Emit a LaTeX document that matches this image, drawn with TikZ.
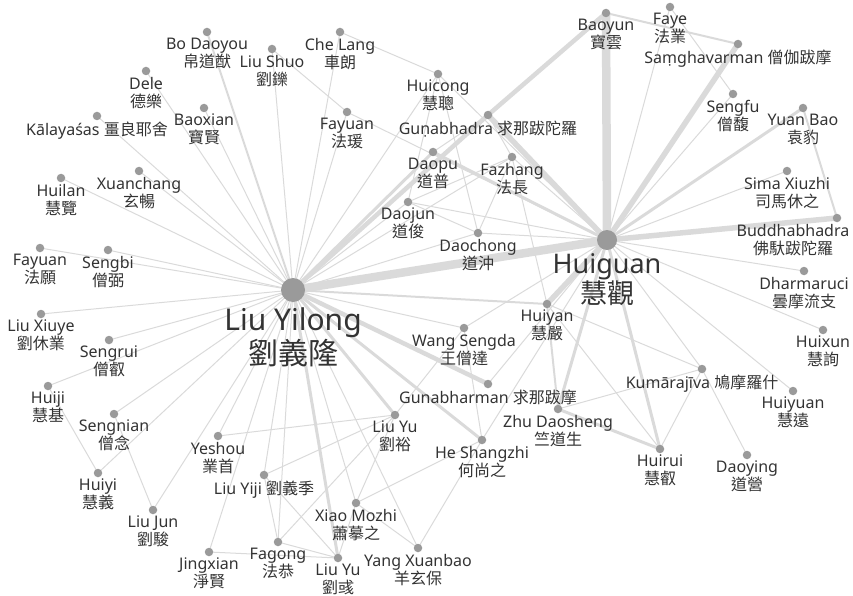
\documentclass[tikz,border=0pt]{standalone}
\usepackage{fontspec}
\setmainfont{Noto Sans}
\newfontfamily\cjk{Noto Sans CJK TC}
\definecolor{edgec}{HTML}{DADADA}
\definecolor{dotc}{HTML}{9A9A9A}
\definecolor{txtc}{HTML}{333333}
\pgfdeclarelayer{bg}
\pgfsetlayers{bg,main}
\newcommand\mkp[5]{\node[dotn] (#1) at (#2,#3) {}; \node[lbl] (#1l) at ([yshift=-6pt]#1.center) {#4\\{\cjk #5}};}
\newcommand\mko[4]{\node[dotn] (#1) at (#2,#3) {}; \node[lbl] (#1l) at ([yshift=-6pt]#1.center) {#4};}
\begin{document}
\lineskiplimit=-100pt
\lineskip=0pt
\begin{tikzpicture}[x=1pt,y=-1pt,
  dotn/.style={circle,fill=dotc,inner sep=0pt,minimum size=8.5pt},
  hubn/.style={circle,fill=dotc,inner sep=0pt},
  lbl/.style={anchor=north,inner sep=0pt,align=center,text=txtc,font=\fontsize{16}{18}\selectfont},
  hubl/.style={anchor=north,inner sep=0pt,text=txtc},
  e1/.style={draw=edgec,line width=1pt},
  e2/.style={draw=edgec,line width=2pt},
  e3/.style={draw=edgec,line width=3pt},
  e4/.style={draw=edgec,line width=4.5pt},
  e5/.style={draw=edgec,line width=5.5pt},
  e6/.style={draw=edgec,line width=8.5pt}]
\useasboundingbox (0,0) rectangle (853,596);
% hubs
\node[hubn,minimum size=24pt] (ly) at (293,290) {};
\node[hubl,font=\fontsize{30}{32}\selectfont] (lyl) at ([yshift=-17pt]ly.center) {Liu Yilong};
\node[hubl,font=\fontsize{30}{32}\selectfont] (lyc) at ([yshift=-1.5pt]lyl.south) {\cjk 劉義隆};
\node[hubn,minimum size=20pt] (hg) at (607,240) {};
\node[hubl,font=\fontsize{27}{27}\selectfont] (hgl) at ([yshift=-13pt]hg.center) {Huiguan};
\node[hubl,font=\fontsize{27}{27}\selectfont] (hgc) at ([yshift=-1pt]hgl.south) {\cjk 慧觀};
% nodes
\mkp{bodaoyou}{207}{32}{Bo Daoyou}{帛道猷}
\mkp{liushuo}{272}{49}{Liu Shuo}{劉鑠}
\mkp{chelang}{340}{32}{Che Lang}{車朗}
\mkp{dele}{146}{71}{Dele}{德樂}
\mko{kala}{97}{116}{Kālayaśas {\cjk 畺良耶舍}}
\mkp{baoxian}{204}{108}{Baoxian}{寶賢}
\mkp{huilan}{61}{178}{Huilan}{慧覽}
\mkp{xuanchang}{139}{171}{Xuanchang}{玄暢}
\mkp{fayuanl}{40}{248}{Fayuan}{法願}
\mkp{sengbi}{108}{250}{Sengbi}{僧弼}
\mkp{liuxiuye}{41}{314}{Liu Xiuye}{劉休業}
\mkp{sengrui}{109}{340}{Sengrui}{僧叡}
\mkp{huiji}{48}{386}{Huiji}{慧基}
\mkp{sengnian}{114}{414}{Sengnian}{僧念}
\mkp{huiyi}{98}{473}{Huiyi}{慧義}
\mkp{liujun}{153}{510}{Liu Jun}{劉駿}
\mkp{jingxian}{209}{552}{Jingxian}{淨賢}
\mkp{yeshou}{218}{436}{Yeshou}{業首}
\mko{liuyiji}{264}{475}{Liu Yiji {\cjk 劉義季}}
\mkp{fagong}{278}{542}{Fagong}{法恭}
\mkp{liuyub}{338}{558}{Liu Yu}{劉彧}
\mkp{xiaomozhi}{356}{503}{Xiao Mozhi}{蕭摹之}
\mkp{yangxb}{418}{548}{Yang Xuanbao}{羊玄保}
\mkp{liuyua}{395}{415}{Liu Yu}{劉裕}
\mkp{heshangzhi}{482}{440}{He Shangzhi}{何尚之}
\mko{gunabharman}{488}{384}{Gunabharman {\cjk 求那跋摩}}
\mkp{zhuds}{558}{409}{Zhu Daosheng}{竺道生}
\mkp{wangsd}{464}{328}{Wang Sengda}{王僧達}
\mkp{huiyan}{547}{304}{Huiyan}{慧嚴}
\mkp{huirui}{660}{449}{Huirui}{慧叡}
\mkp{daoying}{747}{455}{Daoying}{道營}
\mko{kumara}{702}{369}{Kumārajīva {\cjk 鳩摩羅什}}
\mkp{huiyuan}{793}{391}{Huiyuan}{慧遠}
\mkp{huixun}{823}{330}{Huixun}{慧詢}
\mkp{dharmaruci}{804}{271}{Dharmaruci}{曇摩流支}
\node[dotn] (buddha) at (837,218) {};
\node[lbl] (buddhal) at (793,224) {Buddhabhadra\\{\cjk 佛馱跋陀羅}};
\mkp{sima}{787}{171}{Sima Xiuzhi}{司馬休之}
\mkp{yuanbao}{803}{108}{Yuan Bao}{袁豹}
\mkp{sengfu}{733}{94}{Sengfu}{僧馥}
\mko{samgha}{738}{44}{Saṃghavarman {\cjk 僧伽跋摩}}
\mkp{faye}{670}{7}{Faye}{法業}
\mkp{baoyun}{606}{13}{Baoyun}{寶雲}
\mkp{huicong}{438}{74}{Huicong}{慧聰}
\mko{gunabhadra}{488}{115}{Guṇabhadra {\cjk 求那跋陀羅}}
\mkp{fayuant}{347}{112}{Fayuan}{法瑗}
\mkp{daopu}{433}{152}{Daopu}{道普}
\mkp{fazhang}{512}{157}{Fazhang}{法長}
\mkp{daojun}{408}{202}{Daojun}{道俊}
\mkp{daochong}{478}{233}{Daochong}{道沖}
% edges
\begin{pgfonlayer}{bg}
\foreach \a/\b in {ly/liushuo,ly/chelang,ly/dele,ly/kala,ly/baoxian,ly/huilan,ly/xuanchang,ly/fayuanl,ly/sengbi,ly/liuxiuye,ly/sengrui,ly/huiji,ly/sengnian,ly/huiyi,ly/liujun,ly/jingxian,ly/yeshou,ly/liuyiji,ly/fagong,ly/xiaomozhi,ly/yangxb,ly/wangsd,ly/daochong,ly/daojun,ly/fayuant,ly/huicong,ly/fazhang,
 hg/faye,hg/sengfu,hg/sima,hg/dharmaruci,hg/huixun,hg/huiyuan,hg/kumara,hg/gunabharman,hg/huicong,hg/fazhang,hg/daojun,hg/daochong,hg/wangsd,hg/fayuant,hg/heshangzhi,
 faye/sengfu,chelang/huicong,liushuo/fayuant,huicong/daojun,huicong/daochong,gunabhadra/fazhang,gunabhadra/daopu,daojun/fazhang,daojun/daochong,daochong/fazhang,fazhang/huiyan,huiyan/huirui,huiyan/kumara,zhuds/kumara,kumara/huirui,kumara/daoying,heshangzhi/wangsd,liuyua/wangsd,liuyua/yeshou,liuyua/liuyiji,liuyua/fagong,liuyua/xiaomozhi,xiaomozhi/heshangzhi,xiaomozhi/liuyub,xiaomozhi/yangxb,yangxb/heshangzhi,liuyiji/fagong,liuyiji/liuyub,fagong/liuyub,jingxian/liuyub,huiji/huiyi,sengnian/liujun}
  \draw[e1] (\a.center) -- (\b.center);
\foreach \a/\b in {ly/bodaoyou,ly/huiyan,yuanbao/buddha,baoyun/samgha,huiyan/zhuds}
  \draw[e2] (\a.center) -- (\b.center);
\foreach \a/\b in {ly/liuyub,ly/liuyua,ly/heshangzhi,ly/daopu,hg/yuanbao,hg/huirui,hg/zhuds,hg/daopu,zhuds/huirui}
  \draw[e3] (\a.center) -- (\b.center);
\foreach \a/\b in {ly/gunabharman,ly/gunabhadra,gunabhadra/baoyun}
  \draw[e4] (\a.center) -- (\b.center);
\foreach \a/\b in {hg/samgha,hg/buddha,hg/huiyan,hg/gunabhadra}
  \draw[e5] (\a.center) -- (\b.center);
\foreach \a/\b in {ly/hg,hg/baoyun}
  \draw[e6] (\a.center) -- (\b.center);
\end{pgfonlayer}
\end{tikzpicture}
\end{document}
